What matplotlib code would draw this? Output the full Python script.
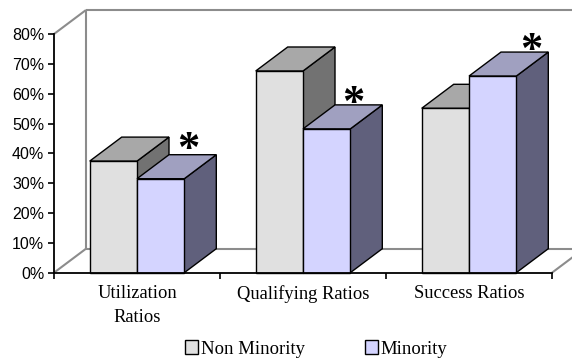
import matplotlib
matplotlib.use("Agg")
import matplotlib.pyplot as plt
from matplotlib.patches import Polygon, Rectangle, Patch

categories = ["Utilization\nRatios", "Qualifying Ratios", "Success Ratios"]
series_names = ["Non Minority", "Minority"]
non_minority = [37.4, 67.6, 55.1]
minority = [31.5, 48.2, 65.9]
y_ticks = [0, 10, 20, 30, 40, 50, 60, 70, 80]
title = "Ratio Overall Factors"

# face colours per series: front, top, side
FACES = {
    "Non Minority": ("#e0e0e0", "#a8a8a8", "#727272"),
    "Minority": ("#d4d4ff", "#a0a0c0", "#60607c"),
}
WALL = "#8c8c8c"
SERIF = ["Liberation Serif", "DejaVu Serif"]
SANS = ["Liberation Sans", "DejaVu Sans"]

W, H, DPI = 572, 358, 100
fig = plt.figure(figsize=(W / DPI, H / DPI), dpi=DPI)
# plot area: x axis 54..552 px, y axis 34..273 px
ax = fig.add_axes([54 / W, 85.3 / H, 498 / W, 238.7 / H])
ax.set_xlim(0, 3)
ax.set_ylim(0, 80)

# depth of the pseudo-3D projection, in data units
px_x = 498 / 3
px_y = 238.7 / 80
DX = 32 / px_x
DY = 24 / px_y
BAR_W = 47.3 / px_x


def poly(pts, color, lw=1.0, ec="black", z=2):
    p = Polygon(pts, closed=True, fc=color, ec=ec, lw=lw, zorder=z, clip_on=False)
    ax.add_patch(p)


def bar3d(x0, h, faces, z):
    front, top, side = faces
    poly([(x0 + BAR_W, 0), (x0 + BAR_W + DX, DY), (x0 + BAR_W + DX, h + DY), (x0 + BAR_W, h)], side, z=z)
    poly([(x0, h), (x0 + BAR_W, h), (x0 + BAR_W + DX, h + DY), (x0 + DX, h + DY)], top, z=z)
    ax.add_patch(Rectangle((x0, 0), BAR_W, h, fc=front, ec="black", lw=1.0, zorder=z, clip_on=False))


# back wall and floor outlines
top = y_ticks[-1]
wall_kw = dict(color=WALL, lw=1.5, zorder=1, clip_on=False, solid_capstyle="butt")
ax.plot([DX, DX], [DY, top + DY], **wall_kw)
ax.plot([DX, 3 + DX + 0.2], [top + DY, top + DY], **wall_kw)
ax.plot([DX, 3 + DX + 0.2], [DY, DY], **wall_kw)
ax.plot([0, DX], [top, top + DY], **wall_kw)
ax.plot([0, DX], [0, DY], **wall_kw)
ax.plot([3, 3 + DX], [0, DY], **wall_kw)

# bars, drawn left to right so each front face hides its neighbour's side
z = 3
for i in range(len(categories)):
    c = i + 0.5
    bar3d(c - BAR_W, non_minority[i], FACES["Non Minority"], z)
    bar3d(c, minority[i], FACES["Minority"], z + 1)
    z += 2

# significance markers above the minority bars
star_nudge = [(4, 29), (3, 25), (15, 25)]
for i, v in enumerate(minority):
    ax.annotate("*", (i + 0.5 + BAR_W, v), xytext=star_nudge[i], textcoords="offset pixels",
                ha="center", va="center", fontsize=32, fontweight="bold",
                family=SERIF, zorder=20, annotation_clip=False)

# axes
for s in ("top", "right"):
    ax.spines[s].set_visible(False)
ax.spines["left"].set_linewidth(1.3)
ax.spines["bottom"].set_linewidth(1.3)
ax.spines["left"].set_zorder(30)
ax.spines["bottom"].set_zorder(30)
ax.set_facecolor("none")
ax.set_yticks(y_ticks)
ax.set_yticklabels([f"{t}%" for t in y_ticks], family=SANS, fontsize=11.5)
ax.tick_params(axis="y", direction="out", length=4, width=1.2, pad=3)
ax.set_xticks([0, 1, 2, 3])
ax.set_xticklabels([])
ax.tick_params(axis="x", which="major", direction="out", length=4, width=1.2)
ax.set_xticks([0.5, 1.5, 2.5], minor=True)
ax.set_xticklabels(categories, minor=True, family=SERIF, fontsize=13.3, linespacing=1.5)
ax.tick_params(axis="x", which="minor", length=0, pad=9)

handles = [Patch(fc=FACES[n][0], ec="black", lw=1.0) for n in series_names]
fig.legend(handles, series_names, loc="center", bbox_to_anchor=(316 / W, 9 / H), ncol=2,
           frameon=False, prop={"family": SERIF, "size": 13.5},
           handlelength=0.7, handleheight=0.7, handletextpad=0.15, columnspacing=3.2)

# chart title sits just above the top edge of the image
fig.text(315 / W, 1 + 2 / H, title, ha="center", va="baseline", family=SERIF,
         fontsize=13, fontweight="bold")

fig.savefig("out.png", dpi=DPI)
